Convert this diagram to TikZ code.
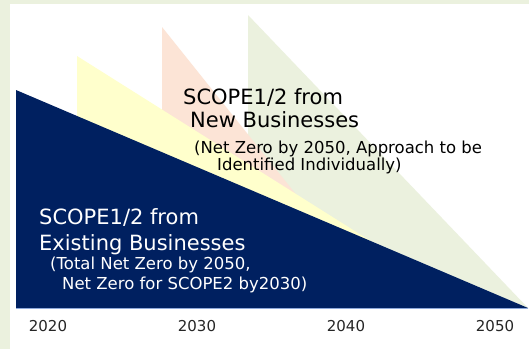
\documentclass[tikz,border=0pt]{standalone}
\usepackage{fontspec}
\setmainfont{DejaVu Sans}
\definecolor{khung}{HTML}{EBF1DE}
\definecolor{xanhdam}{HTML}{002060}
\definecolor{vang}{HTML}{FFFFCC}
\definecolor{cam}{HTML}{FCE4D6}
\definecolor{xanhla}{HTML}{EBF1DE}
\definecolor{truc}{HTML}{8EA9DB}
\tikzset{
  chuto/.style={anchor=base west, inner sep=0pt, font=\fontsize{21}{25}\selectfont},
  chunho/.style={anchor=base west, inner sep=0pt, font=\fontsize{16.5}{19}\selectfont},
  nam/.style={anchor=base, inner sep=0pt, font=\fontsize{15}{18}\selectfont, text=black!85}
}
\begin{document}
\begin{tikzpicture}[x=1pt, y=-1pt, line join=round]
			\useasboundingbox (0,0) rectangle (529,349);
			% Khung nền
			\fill[khung] (0,0) rectangle (529,349);
			\fill[white] (10,4) rectangle (529,349);
			% Các tam giác
			\coordinate (A1) at (248,15);
			\coordinate (A2) at (162,27);
			\coordinate (A3) at (77,56);
			\coordinate (A4) at (16,90);
			\coordinate (B1) at (248,308);
			\coordinate (B2) at (162,308);
			\coordinate (B3) at (77,308);
			\coordinate (B4) at (16,308);
			\coordinate (C1) at (528,308);
			\coordinate (C2) at (387,308);
			\coordinate (C3) at (477,308);
			\fill[xanhla] (A1)--(B1)--(C1)--cycle;
			\fill[cam] (A2)--(B2)--(C2)--cycle;
			\fill[vang] (A3)--(B3)--(C3)--cycle;
			\fill[xanhdam] (A4)--(B4)--(C1)--cycle;
			\draw[truc, line width=0.8pt] (B4)--(C1);
			% Chữ phần trên
			\node[chuto] (moi1) at (183,104) {SCOPE1/2 from};
			\node[chuto] (moi2) at (190,127) {New Businesses};
			\node[chunho] (moi3) at (194,153) {(Net Zero by 2050, Approach to be};
			\node[chunho] (moi4) at (217,170) {Identified Individually)};
			% Chữ phần dưới
			\node[chuto, text=white] (cu1) at (39,224) {SCOPE1/2 from};
			\node[chuto, text=white] (cu2) at (39,250) {Existing Businesses};
			\node[chunho, text=white] (cu3) at (50,269) {(Total Net Zero by 2050,};
			\node[chunho, text=white] (cu4) at (62,289) {Net Zero for SCOPE2 by2030)};
			% Các năm
			\node[nam] (n2020) at (48,331) {2020};
			\node[nam] (n2030) at (197,331) {2030};
			\node[nam] (n2040) at (346,331) {2040};
			\node[nam] (n2050) at (495,331) {2050};
		\end{tikzpicture}
\end{document}
